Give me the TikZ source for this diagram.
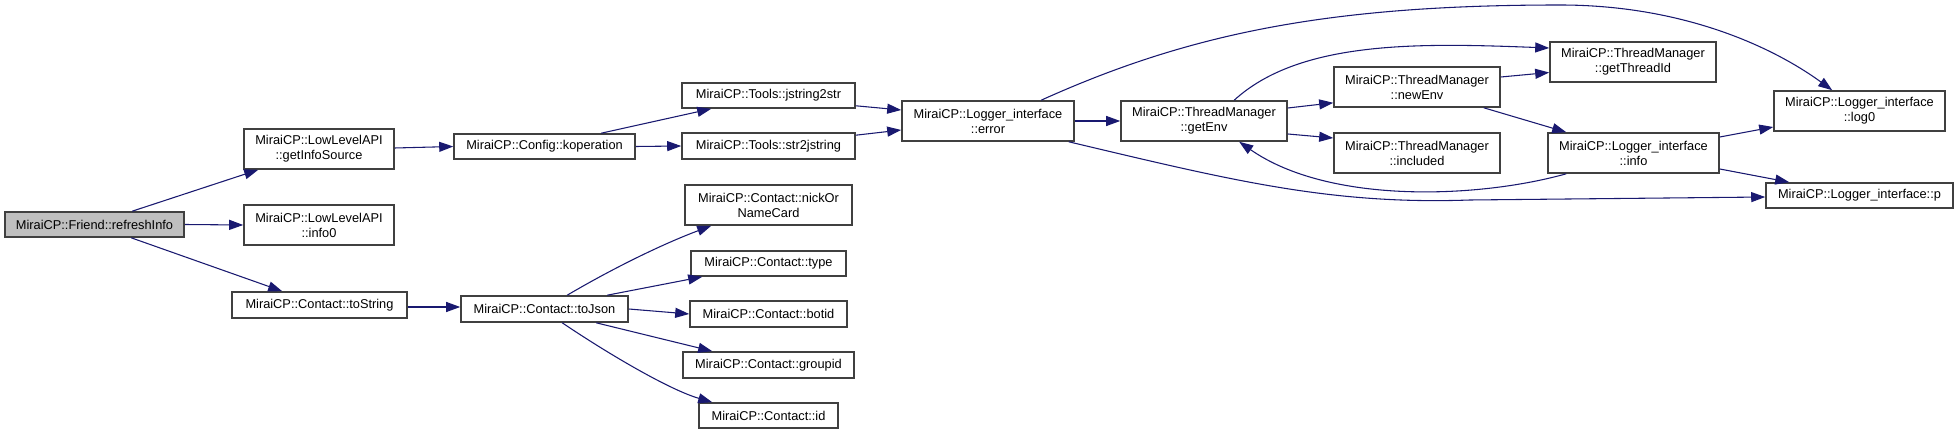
\documentclass[tikz,border=0pt]{standalone}
\usepackage{fontspec}
\setmainfont{Liberation Sans}
\usetikzlibrary{arrows.meta,calc}
\definecolor{edgec}{HTML}{191970}
\definecolor{boxc}{HTML}{404040}
\definecolor{rootf}{HTML}{BFBFBF}
\tikzset{
 fbox/.style={draw=boxc, line width=1.2pt, fill=white, inner sep=0pt, align=center, font=\fontsize{9.6}{11.25}\selectfont, text=black},
 call/.style={draw=edgec, line width=0.8pt, -{Triangle[length=10.5pt,width=7.5pt]}},
}
\newcommand\mybox[7][]{%
 \pgfmathsetmacro\bw{(#5-#3)*0.75}%
 \pgfmathsetmacro\bh{(#6-#4)*0.75}%
 \node[fbox,#1,minimum width=\bw pt,minimum height=\bh pt] (#2) at ({(#3+#5)/2},{(#4+#6)/2}) {#7};}
\begin{document}
\begin{tikzpicture}[x=0.75pt,y=-0.75pt]
\fill[white] (0,0) rectangle (1959,434);
\useasboundingbox (0,0) rectangle (1959,434);
\mybox[fill=rootf]{rf}{5}{212}{184}{237}{MiraiCP::Friend::refreshInfo}
\mybox{gis}{244}{129}{394}{169}{MiraiCP::LowLevelAPI\\::getInfoSource}
\mybox{inf0}{244}{205}{394}{245}{MiraiCP::LowLevelAPI\\::info0}
\mybox{ts}{232}{292}{407}{318}{MiraiCP::Contact::toString}
\mybox{kop}{454}{134}{635}{159}{MiraiCP::Config::koperation}
\mybox{js}{682}{83}{855}{108}{MiraiCP::Tools::jstring2str}
\mybox{sj}{682}{133}{855}{159}{MiraiCP::Tools::str2jstring}
\mybox{err}{902}{101}{1074}{141}{MiraiCP::Logger\_interface\\::error}
\mybox{ge}{1121}{101}{1287}{141}{MiraiCP::ThreadManager\\::getEnv}
\mybox{ne}{1334}{67}{1500}{107}{MiraiCP::ThreadManager\\::newEnv}
\mybox{inc}{1334}{133}{1500}{173}{MiraiCP::ThreadManager\\::included}
\mybox{gti}{1550}{42}{1716}{82}{MiraiCP::ThreadManager\\::getThreadId}
\mybox{info}{1548}{133}{1719}{173}{MiraiCP::Logger\_interface\\::info}
\mybox{log}{1774}{91}{1945}{131}{MiraiCP::Logger\_interface\\::log0}
\mybox{p}{1766}{183}{1953}{208}{MiraiCP::Logger\_interface::p}
\mybox{tj}{461}{296}{628}{322}{MiraiCP::Contact::toJson}
\mybox{nick}{685}{185}{852}{225}{MiraiCP::Contact::nickOr\\NameCard}
\mybox{type}{691}{251}{846}{276}{MiraiCP::Contact::type}
\mybox{bot}{690}{301}{847}{327}{MiraiCP::Contact::botid}
\mybox{grp}{683}{352}{854}{378}{MiraiCP::Contact::groupid}
\mybox{id}{699}{403}{838}{428}{MiraiCP::Contact::id}

\draw[call] ($(rf.north west)+(128,0)$) -- ($(gis.south west)+(15,0)$);
\draw[call] (rf.east) -- (inf0.west);
\draw[call] ($(rf.south west)+(127,0)$) -- ($(ts.north west)+(51,0)$);
\draw[call] ($(gis.east)+(0,-1)$) -- (kop.west);
\draw[call] ($(kop.north west)+(148,0)$) -- ($(js.south west)+(30,0)$);
\draw[call] (kop.east) -- (sj.west);
\draw[call] ($(js.south east)+(0,-3)$) -- ($(err.west)+(0,-11)$);
\draw[call] ($(sj.north east)+(0,3)$) -- ($(err.west)+(0,9)$);
\draw[call] (err.east) -- (ge.west);
\draw[call] ($(err.north west)+(140,0)$) .. controls (1190,33) and (1330,5) .. (1560,5) .. controls (1680,5) and (1770,45) .. ($(log.north west)+(59,0)$);
\draw[call] ($(err.south east)+(-6,0)$) .. controls (1230,180) and (1330,205) .. (1470,200) -- ($(p.west)+(0,1.5)$);
\draw[call] ($(ge.north west)+(114,0)$) .. controls (1300,40) and (1420,43) .. ($(gti.west)+(0,-14)$);
\draw[call] ($(ge.east)+(0,-13)$) -- ($(ne.south west)+(0,-5)$);
\draw[call] ($(ge.east)+(0,13)$) -- ($(inc.west)+(0,-15)$);
\draw[call] ($(ne.east)+(0,-10)$) -- ($(gti.west)+(0,10.5)$);
\draw[call] ($(ne.south east)+(-17,0)$) -- ($(info.north west)+(19,0)$);
\draw[call] ($(info.east)+(0,-16)$) -- ($(log.west)+(0,16)$);
\draw[call] ($(info.east)+(0,16)$) -- ($(p.north west)+(24,0)$);
\draw[call] ($(info.south west)+(19,0)$) .. controls (1480,198) and (1330,205) .. ($(ge.south west)+(119,0)$);
\draw[call] ($(ts.east)+(0,2)$) -- ($(tj.west)+(0,-2)$);
\draw[call] ($(tj.north west)+(107,0)$) .. controls (610,270) and (660,245) .. ($(nick.south west)+(27,0)$);
\draw[call] ($(tj.north west)+(147,0)$) -- ($(type.south west)+(12,0)$);
\draw[call] (tj.east) -- (bot.west);
\draw[call] ($(tj.south west)+(136,0)$) -- ($(grp.north west)+(30,0)$);
\draw[call] ($(tj.south west)+(102,0)$) .. controls (610,355) and (670,390) .. ($(id.north west)+(14,0)$);
\end{tikzpicture}
\end{document}
